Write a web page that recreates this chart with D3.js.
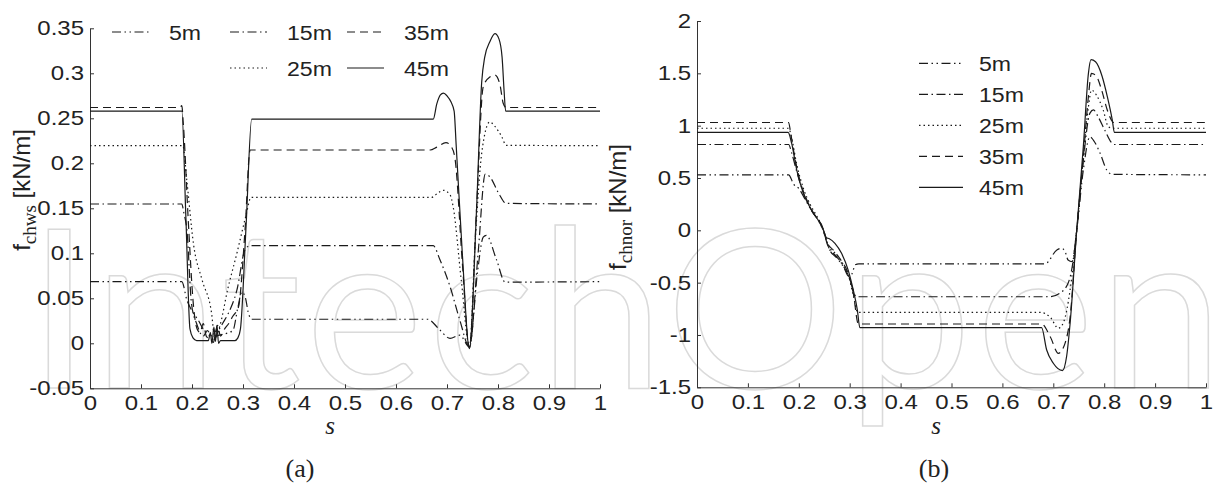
<!DOCTYPE html>
<html>
<head>
<meta charset="utf-8">
<script src="https://cdn.jsdelivr.net/npm/d3@7"></script>
<style>
  body { margin: 0; background: #fff; }
  svg text { font-family: "Liberation Sans", Arial, sans-serif; fill: #222; }
</style>
</head>
<body>
<div id="chart"></div>
<script>
const W = 1216, H = 484;

// series names (water depth)
const depths = ["5m", "15m", "25m", "35m", "45m"];

// tick values
const sTicks = [0, 0.1, 0.2, 0.3, 0.4, 0.5, 0.6, 0.7, 0.8, 0.9, 1];
const chwsTicks = [-0.05, 0, 0.05, 0.1, 0.15, 0.2, 0.25, 0.3, 0.35];
const chnorTicks = [-1.5, -1, -0.5, 0, 0.5, 1, 1.5, 2];

// panel (a): [s, f_chws]
const chws5 = [[0,0.0685],[0.180,0.0685],[0.190,0.048],[0.199,0.037],[0.212,0.026],[0.224,0.014],[0.240,0.008],[0.260,0.010],[0.280,0.014],[0.290,0.040],[0.298,0.057],[0.305,0.050],[0.310,0.035],[0.317,0.0267],[0.662,0.0267],[0.686,0.0148],[0.706,0.0055],[0.725,0.009],[0.744,-0.004],[0.760,0.080],[0.771,0.118],[0.777,0.120],[0.797,0.093],[0.814,0.068],[1,0.0685]];
const chws15 = [[0,0.1548],[0.180,0.1548],[0.184,0.145],[0.190,0.126],[0.199,0.044],[0.209,0.022],[0.222,0.008],[0.230,0.014],[0.236,0.010],[0.244,0.004],[0.250,0.012],[0.260,0.022],[0.271,0.033],[0.288,0.059],[0.304,0.104],[0.314,0.1085],[0.673,0.1085],[0.686,0.093],[0.706,0.063],[0.725,0.026],[0.744,-0.004],[0.761,0.100],[0.775,0.188],[0.784,0.185],[0.801,0.167],[0.816,0.1555],[1,0.1548]];
const chws25 = [[0,0.2196],[0.182,0.2196],[0.190,0.180],[0.203,0.110],[0.220,0.070],[0.238,0.035],[0.245,0.005],[0.255,0.020],[0.270,0.060],[0.288,0.100],[0.305,0.140],[0.316,0.1622],[0.670,0.1622],[0.682,0.167],[0.693,0.170],[0.706,0.165],[0.712,0.152],[0.728,0.070],[0.744,-0.004],[0.756,0.120],[0.768,0.211],[0.784,0.246],[0.794,0.241],[0.807,0.230],[0.816,0.220],[1,0.2196]];
const chws35 = [[0,0.262],[0.176,0.262],[0.180,0.264],[0.183,0.244],[0.193,0.133],[0.203,0.041],[0.210,0.016],[0.216,0.012],[0.222,0.022],[0.228,0.008],[0.236,0.004],[0.242,0.001],[0.246,0.012],[0.250,0.020],[0.256,0.008],[0.264,0.016],[0.272,0.022],[0.280,0.030],[0.291,0.040],[0.304,0.126],[0.314,0.2148],[0.667,0.2148],[0.680,0.218],[0.698,0.223],[0.709,0.218],[0.716,0.204],[0.730,0.090],[0.744,-0.005],[0.758,0.150],[0.771,0.285],[0.784,0.296],[0.794,0.298],[0.804,0.287],[0.810,0.267],[0.816,0.262],[1,0.262]];
const chws45 = [[0,0.258],[0.180,0.258],[0.188,0.140],[0.196,0.016],[0.202,0.006],[0.209,0.003],[0.232,0.003],[0.236,0.012],[0.239,0.000],[0.243,0.018],[0.246,0.002],[0.249,0.020],[0.252,0.000],[0.256,0.003],[0.284,0.003],[0.290,0.006],[0.295,0.016],[0.306,0.130],[0.317,0.249],[0.673,0.249],[0.680,0.266],[0.687,0.276],[0.693,0.278],[0.700,0.275],[0.708,0.268],[0.714,0.258],[0.718,0.220],[0.730,0.100],[0.744,-0.006],[0.758,0.150],[0.768,0.290],[0.774,0.318],[0.784,0.335],[0.794,0.344],[0.802,0.338],[0.808,0.318],[0.812,0.280],[0.815,0.258],[1,0.258]];

// panel (b): [s, f_chnor]
const chnor5 = [[0,0.53],[0.180,0.53],[0.190,0.44],[0.200,0.40],[0.212,0.30],[0.226,0.18],[0.240,0.08],[0.250,-0.02],[0.260,-0.18],[0.274,-0.26],[0.288,-0.35],[0.298,-0.44],[0.304,-0.42],[0.311,-0.33],[0.318,-0.32],[0.684,-0.32],[0.707,-0.188],[0.716,-0.172],[0.723,-0.20],[0.729,-0.284],[0.737,-0.30],[0.746,0.0],[0.759,0.576],[0.772,0.894],[0.779,0.86],[0.792,0.736],[0.805,0.576],[0.816,0.535],[1,0.53]];
const chnor15 = [[0,0.82],[0.180,0.82],[0.186,0.74],[0.196,0.56],[0.209,0.36],[0.224,0.20],[0.238,0.10],[0.248,0.0],[0.258,-0.16],[0.272,-0.24],[0.286,-0.33],[0.298,-0.44],[0.306,-0.56],[0.313,-0.635],[0.675,-0.635],[0.694,-0.634],[0.713,-0.60],[0.729,-0.506],[0.736,-0.38],[0.746,0.0],[0.759,0.67],[0.772,1.12],[0.779,1.15],[0.788,1.085],[0.801,0.958],[0.816,0.83],[0.820,0.82],[1,0.82]];
const chnor25 = [[0,0.975],[0.180,0.975],[0.186,0.88],[0.196,0.63],[0.209,0.40],[0.222,0.25],[0.236,0.13],[0.248,0.01],[0.258,-0.15],[0.270,-0.21],[0.284,-0.30],[0.297,-0.42],[0.307,-0.62],[0.316,-0.785],[0.675,-0.785],[0.694,-0.83],[0.710,-0.936],[0.720,-0.88],[0.733,-0.57],[0.746,0.0],[0.759,0.70],[0.769,1.18],[0.775,1.34],[0.785,1.29],[0.798,1.15],[0.808,0.99],[0.816,0.975],[1,0.975]];
const chnor35 = [[0,1.03],[0.180,1.03],[0.184,0.93],[0.192,0.70],[0.203,0.46],[0.215,0.30],[0.228,0.17],[0.240,0.09],[0.248,0.0],[0.256,-0.12],[0.268,-0.19],[0.282,-0.28],[0.296,-0.40],[0.307,-0.60],[0.317,-0.895],[0.677,-0.895],[0.694,-1.017],[0.710,-1.175],[0.723,-1.08],[0.733,-0.83],[0.746,0.0],[0.759,0.70],[0.769,1.28],[0.775,1.50],[0.785,1.47],[0.795,1.34],[0.806,1.15],[0.816,1.04],[0.818,1.03],[1,1.03]];
const chnor45 = [[0,0.935],[0.179,0.935],[0.186,0.83],[0.196,0.576],[0.209,0.353],[0.225,0.194],[0.238,0.098],[0.245,0.05],[0.250,-0.02],[0.254,-0.07],[0.260,-0.08],[0.271,-0.124],[0.284,-0.22],[0.297,-0.38],[0.307,-0.57],[0.315,-0.76],[0.320,-0.93],[0.677,-0.93],[0.687,-1.144],[0.700,-1.27],[0.718,-1.34],[0.726,-1.21],[0.733,-0.89],[0.746,0.0],[0.759,0.80],[0.769,1.50],[0.774,1.63],[0.783,1.61],[0.796,1.47],[0.806,1.28],[0.816,1.05],[0.820,0.935],[1,0.935]];

// line styles per depth (matlab-ish)
const dashes = {"5m": "9,3.5,1.5,3.5,1.5,3.5", "15m": "9,3.5,1.5,3.5", "25m": "1.5,3", "35m": "8,5", "45m": null};

const svg = d3.select("#chart").append("svg")
    .attr("width", W)
    .attr("height", H);

// faint watermark in the background
svg.append("text")
    .attr("x", 28)
    .attr("y", 388)
    .attr("textLength", 1195)
    .attr("lengthAdjust", "spacing")
    .style("font-family", "Lato, sans-serif")
    .style("font-size", "222px")
    .style("fill", "none")
    .style("stroke", "#dadada")
    .style("stroke-width", 1.5)
    .text("IntechOpen");

const fmt = (d) => String(+d.toFixed(2));

// stretch text horizontally around its anchor
function stretch(sel, k) {
    sel.each(function(){
        let x = +this.getAttribute("x") || 0;
        this.setAttribute("transform", `translate(${x},0) scale(${k},1) translate(${-x},0)`);
    });
}

function drawPanel(p) {
    let x = d3.scaleLinear().domain([0, 1]).range([p.x0, p.x1]);
    let y = d3.scaleLinear().domain([p.ticks[0], p.ticks[p.ticks.length - 1]]).range([p.yBot, p.yTop]);
    let g = svg.append("g");

    let xAxis = g.append("g")
        .attr("transform", `translate(0,${p.yBot})`)
        .call(d3.axisBottom(x).tickValues(sTicks).tickSize(-4).tickSizeOuter(0).tickPadding(8).tickFormat(fmt));
    let yAxis = g.append("g")
        .attr("transform", `translate(${p.x0},0)`)
        .call(d3.axisLeft(y).tickValues(p.ticks).tickSize(-4).tickSizeOuter(0).tickPadding(6).tickFormat(fmt));

    [xAxis, yAxis].forEach((a) => {
        a.select(".domain").attr("stroke", "#333");
        a.selectAll(".tick line").attr("stroke", "#333");
        a.selectAll("text").style("font-size", "20px").attr("fill", "#222")
            .style("font-family", "'Liberation Sans', Arial, sans-serif");
        stretch(a.selectAll("text"), 1.2);
    });

    let line = d3.line()
        .x((d) => x(d[0]))
        .y((d) => y(d[1]))
        .curve(d3.curveMonotoneX);

    p.series.forEach((s, i) => {
        g.append("path")
            .attr("d", line(s))
            .attr("fill", "none")
            .attr("stroke", "#1a1a1a")
            .attr("stroke-width", 1.2)
            .attr("stroke-dasharray", dashes[depths[i]]);
    });

    // legend
    p.legend.forEach((pos, i) => {
        let name = depths[i];
        g.append("line")
            .attr("x1", pos[0]).attr("x2", pos[0] + p.sampleLen)
            .attr("y1", pos[1]).attr("y2", pos[1])
            .attr("stroke", "#1a1a1a")
            .attr("stroke-width", 1.2)
            .attr("stroke-dasharray", dashes[name]);
        let t = g.append("text")
            .attr("x", pos[0] + p.textGap)
            .attr("y", pos[1])
            .attr("dy", "0.36em")
            .style("font-size", "21px")
            .text(name);
        stretch(t, 1.1);
    });

    // y label with serif subscript
    let yl = g.append("text")
        .attr("transform", `translate(${p.ylab[0]},${p.ylab[1]}) rotate(-90)`)
        .attr("text-anchor", "middle")
        .style("font-size", "24px");
    yl.append("tspan").text("f");
    yl.append("tspan")
        .attr("dy", 6)
        .style("font-family", "'Liberation Serif', 'Times New Roman', serif")
        .style("font-size", "19px")
        .text(p.sub);
    yl.append("tspan").attr("dy", -6).text(" [kN/m]");

    g.append("text")
        .attr("x", p.xlab[0]).attr("y", p.xlab[1])
        .attr("text-anchor", "middle")
        .style("font-family", "'Liberation Serif', serif")
        .style("font-style", "italic")
        .style("font-size", "25px")
        .text("s");

    g.append("text")
        .attr("x", p.cap[0]).attr("y", p.cap[1])
        .attr("text-anchor", "middle")
        .style("font-family", "'Liberation Serif', serif")
        .style("font-size", "26px")
        .text(p.caption);
}

drawPanel({
    x0: 90, x1: 600, yTop: 28.3, yBot: 388.3,
    ticks: chwsTicks,
    series: [chws5, chws15, chws25, chws35, chws45],
    legend: [[112, 32], [230, 32], [230, 68], [347, 32], [347, 68]],
    sampleLen: 37, textGap: 57,
    sub: "chws", ylab: [30, 190], xlab: [330, 434], cap: [300, 477], caption: "(a)"
});

drawPanel({
    x0: 697, x1: 1206, yTop: 21, yBot: 387.3,
    ticks: chnorTicks,
    series: [chnor5, chnor15, chnor25, chnor35, chnor45],
    legend: [[919, 63.3], [919, 94.3], [919, 125.3], [919, 156.3], [919, 187.3]],
    sampleLen: 44, textGap: 60,
    sub: "chnor", ylab: [626, 207], xlab: [936, 434], cap: [934, 477], caption: "(b)"
});
</script>
</body>
</html>
